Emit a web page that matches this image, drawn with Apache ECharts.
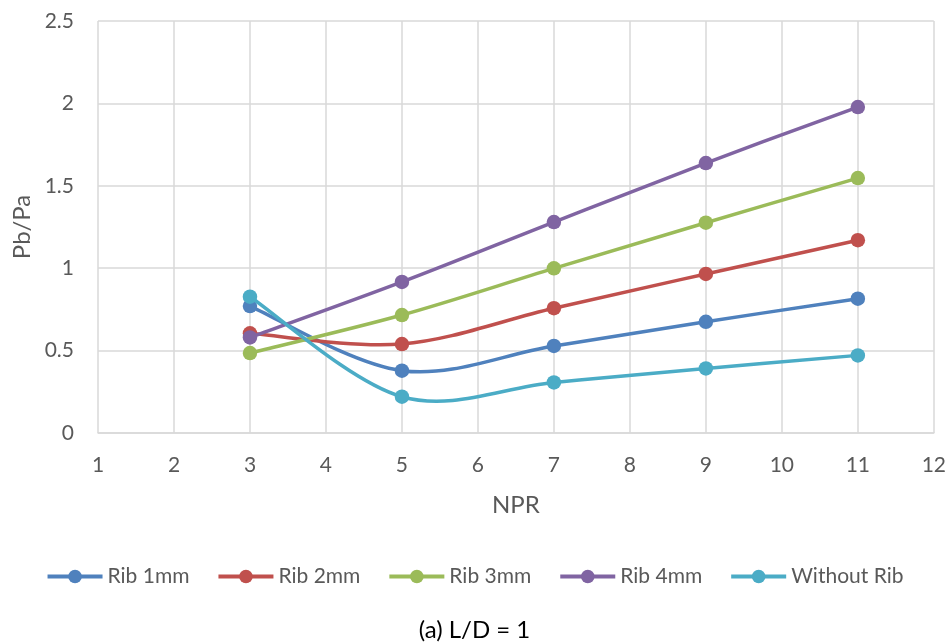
<!DOCTYPE html>
<html>
<head>
<meta charset="utf-8">
<script src="https://cdn.jsdelivr.net/npm/echarts@6/dist/echarts.min.js"></script>
<style>
  html, body { margin: 0; padding: 0; background: #fff; }
  #chart { width: 949px; height: 644px; }
</style>
</head>
<body>
<div id="chart"></div>
<script>
// NPR values at which Pb/Pa was measured
const npr = [3, 5, 7, 9, 11];
const seriesNames = ['Rib 1mm', 'Rib 2mm', 'Rib 3mm', 'Rib 4mm', 'Without Rib'];
const rib1 = [0.77, 0.378, 0.528, 0.675, 0.815];
const rib2 = [0.605, 0.54, 0.757, 0.965, 1.17];
const rib3 = [0.485, 0.716, 0.999, 1.276, 1.547];
const rib4 = [0.58, 0.917, 1.28, 1.638, 1.978];
const noRib = [0.827, 0.22, 0.307, 0.392, 0.471];
const colors = ['#4F81BD', '#C0504D', '#9BBB59', '#8064A2', '#4BACC6'];

const allValues = [rib1, rib2, rib3, rib4, noRib];
const fontFamily = 'Lato, "Open Sans", sans-serif';
const textColor = '#595959';
const gridColor = '#D9D9D9';
const lineWidth = 3.5;

// Cardinal (Catmull-Rom) smoothing through the pixel positions of the points,
// the way spreadsheet "smoothed line" charts draw their curves.
function smoothPath(pts) {
  let d = 'M' + pts[0][0] + ',' + pts[0][1];
  for (let i = 0; i < pts.length - 1; i++) {
    const p0 = pts[Math.max(i - 1, 0)];
    const p1 = pts[i];
    const p2 = pts[i + 1];
    const p3 = pts[Math.min(i + 2, pts.length - 1)];
    const c1x = p1[0] + (p2[0] - p0[0]) / 6;
    const c1y = p1[1] + (p2[1] - p0[1]) / 6;
    const c2x = p2[0] - (p3[0] - p1[0]) / 6;
    const c2y = p2[1] - (p3[1] - p1[1]) / 6;
    d += ' C' + c1x + ',' + c1y + ' ' + c2x + ',' + c2y + ' ' + p2[0] + ',' + p2[1];
  }
  return d;
}

const series = [];
seriesNames.forEach((name, i) => {
  const pts = npr.map((x, j) => [x, allValues[i][j]]);
  // smoothed curve
  series.push({
    name: name + ' curve',
    type: 'custom',
    z: 10 + 2 * i,
    silent: true,
    data: pts,
    renderItem: function (params, api) {
      if (params.dataIndex !== 0) return null;
      const px = pts.map(p => api.coord(p));
      return {
        type: 'path',
        shape: { pathData: smoothPath(px) },
        style: { fill: 'none', stroke: colors[i], lineWidth: lineWidth, lineJoin: 'round', lineCap: 'round' }
      };
    }
  });
  // markers (the line itself is drawn by the curve above)
  series.push({
    name: name,
    type: 'line',
    z: 11 + 2 * i,
    symbol: 'circle',
    symbolSize: 14.5,
    lineStyle: { width: lineWidth, color: colors[i], opacity: 0 },
    itemStyle: { color: colors[i] },
    data: pts
  });
});

const chart = echarts.init(document.getElementById('chart'), null, { renderer: 'canvas' });

chart.setOption({
  animation: false,
  textStyle: { fontFamily: fontFamily },
  color: colors,
  grid: { left: 98, right: 13, top: 21, bottom: 211, containLabel: false },
  title: {
    text: '(a) L/D = 1',
    left: 'center',
    top: 613,
    textStyle: { fontFamily: fontFamily, fontSize: 24, fontWeight: 'normal', color: '#000' }
  },
  legend: {
    data: seriesNames,
    top: 561,
    left: 'center',
    itemWidth: 55,
    itemHeight: 17,
    itemGap: 27,
    lineStyle: { width: 4, opacity: 1 },
    textStyle: { fontFamily: fontFamily, fontSize: 21, color: textColor }
  },
  xAxis: {
    type: 'value',
    min: 1,
    max: 12,
    interval: 1,
    name: 'NPR',
    nameLocation: 'middle',
    nameGap: 60,
    nameTextStyle: { fontFamily: fontFamily, fontSize: 24, color: textColor },
    axisLine: { show: true, lineStyle: { color: gridColor, width: 1.5 } },
    axisTick: { show: false },
    axisLabel: { fontFamily: fontFamily, fontSize: 21, color: textColor, margin: 22 },
    splitLine: { show: true, lineStyle: { color: gridColor, width: 1.5 } }
  },
  yAxis: {
    type: 'value',
    min: 0,
    max: 2.5,
    interval: 0.5,
    name: 'Pb/Pa',
    nameLocation: 'middle',
    nameGap: 62,
    nameRotate: 90,
    nameTextStyle: { fontFamily: fontFamily, fontSize: 24, color: textColor },
    axisLine: { show: false },
    axisTick: { show: false },
    axisLabel: { fontFamily: fontFamily, fontSize: 21, color: textColor, margin: 24 },
    splitLine: { show: true, lineStyle: { color: gridColor, width: 1.5 } }
  },
  series: series
});
</script>
</body>
</html>
